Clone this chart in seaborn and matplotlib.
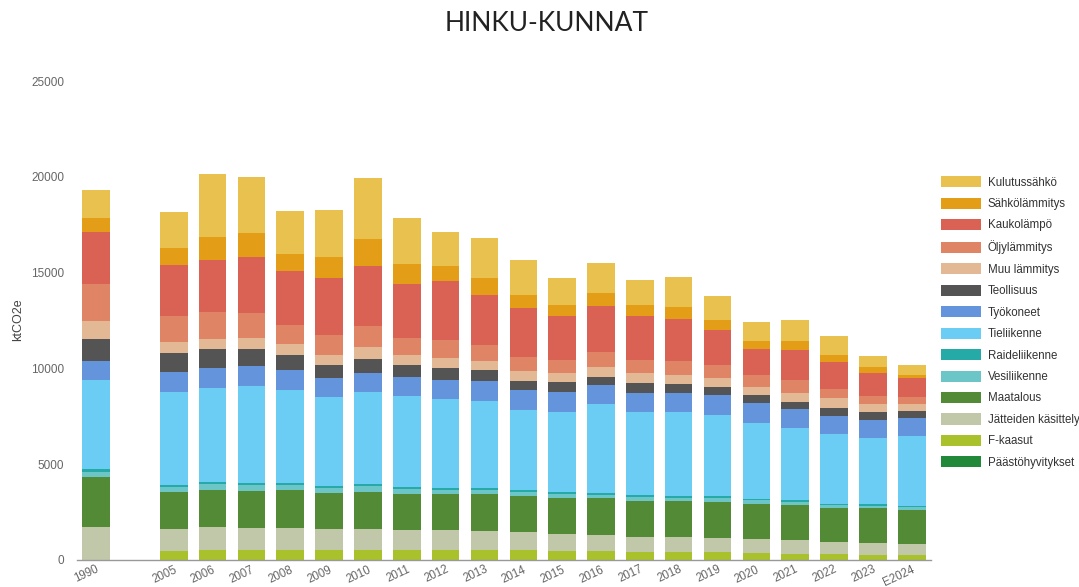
import pandas as pd
import matplotlib.pyplot as plt
import seaborn as sns

# categories (the blank slot keeps the gap between 1990 and 2005)
years = ['1990', '2005', '2006', '2007', '2008', '2009', '2010', '2011', '2012',
         '2013', '2014', '2015', '2016', '2017', '2018', '2019', '2020', '2021',
         '2022', '2023', 'E2024']
order = ['1990', ' '] + years[1:]

# emissions per sector, ktCO2e
paastohyvitykset = [0, 0, 0, 0, 0, 0, 0, 0, 0, 0, 0, 0, 0, 0, 0, 0, 0, 0, 0, 0, 0]
f_kaasut = [0, 450, 520, 520, 540, 520, 520, 520, 520, 520, 505, 470, 470, 435,
            420, 400, 365, 330, 295, 280, 245]
jatteiden_kasittely = [1740, 1150, 1180, 1130, 1115, 1080, 1100, 1030, 1030, 990,
                       940, 905, 820, 785, 765, 750, 715, 715, 660, 630, 610]
maatalous = [2580, 1970, 1950, 1950, 1990, 1920, 1950, 1920, 1880, 1920, 1900,
             1880, 1930, 1880, 1880, 1860, 1860, 1850, 1780, 1810, 1780]
vesiliikenne = [280, 260, 300, 300, 260, 260, 300, 260, 225, 225, 225, 210, 190,
                190, 175, 225, 175, 155, 140, 120, 120]
raideliikenne = [140, 105, 120, 120, 120, 105, 120, 105, 105, 105, 90, 90, 90, 90,
                 90, 90, 90, 90, 70, 70, 70]
tieliikenne = [4670, 4840, 4930, 5050, 4840, 4620, 4790, 4740, 4630, 4560, 4180,
               4180, 4620, 4340, 4390, 4220, 3920, 3730, 3620, 3480, 3640]
tyokoneet = [990, 1030, 1030, 1045, 1060, 1010, 990, 960, 1030, 1030, 1030, 1030,
             990, 1010, 1010, 1045, 1045, 990, 940, 940, 925]
teollisuus = [1115, 990, 960, 890, 750, 660, 700, 660, 610, 560, 490, 505, 450,
              520, 450, 450, 435, 400, 435, 420, 365]
muu_lammitys = [940, 560, 540, 590, 575, 540, 630, 505, 505, 490, 505, 505, 520,
                520, 490, 450, 450, 470, 490, 400, 385]
oljylammitys = [1970, 1390, 1410, 1310, 1030, 1045, 1130, 890, 960, 840, 750, 680,
                750, 680, 700, 680, 590, 645, 490, 385, 385]
kaukolampo = [2680, 2670, 2700, 2930, 2790, 2980, 3140, 2800, 3050, 2580, 2540,
              2260, 2440, 2260, 2210, 1830, 1390, 1570, 1410, 1220, 990]
sahkolammitys = [770, 890, 1200, 1240, 890, 1060, 1390, 1060, 780, 920, 700, 590,
                 680, 575, 645, 520, 400, 470, 365, 295, 155]
kulutussahko = [1460, 1880, 3290, 2930, 2280, 2460, 3170, 2400, 1780, 2090, 1790,
                1410, 1530, 1340, 1550, 1250, 990, 1100, 990, 590, 520]

# bottom to top
sectors = {
    'Päästöhyvitykset': paastohyvitykset,
    'F-kaasut': f_kaasut,
    'Jätteiden käsittely': jatteiden_kasittely,
    'Maatalous': maatalous,
    'Vesiliikenne': vesiliikenne,
    'Raideliikenne': raideliikenne,
    'Tieliikenne': tieliikenne,
    'Työkoneet': tyokoneet,
    'Teollisuus': teollisuus,
    'Muu lämmitys': muu_lammitys,
    'Öljylämmitys': oljylammitys,
    'Kaukolämpö': kaukolampo,
    'Sähkölämmitys': sahkolammitys,
    'Kulutussähkö': kulutussahko,
}
colors = {
    'Päästöhyvitykset': '#23893a',
    'F-kaasut': '#a9c22b',
    'Jätteiden käsittely': '#c1c8aa',
    'Maatalous': '#538a36',
    'Vesiliikenne': '#6cc5c6',
    'Raideliikenne': '#25aaa8',
    'Tieliikenne': '#6bcdf3',
    'Työkoneet': '#6494dc',
    'Teollisuus': '#545454',
    'Muu lämmitys': '#e3b995',
    'Öljylämmitys': '#df8464',
    'Kaukolämpö': '#da6255',
    'Sähkölämmitys': '#e39d17',
    'Kulutussähkö': '#e8c14f',
}

df = pd.DataFrame(sectors, index=years)
stacked = df.cumsum(axis=1)

sns.set_style('white')
plt.rcParams['font.family'] = ['Liberation Sans', 'DejaVu Sans']

fig = plt.figure(figsize=(10.79, 5.87), dpi=100)
ax = fig.add_axes([0.071, 0.046, 0.792, 0.816])

# draw the cumulative totals from the top layer down so each layer shows through
for name in reversed(list(sectors)):
    sns.barplot(x=years, y=stacked[name].values, order=order, color=colors[name],
                saturation=1, width=0.71, linewidth=0, errorbar=None,
                label=name, ax=ax)

if ax.get_legend() is not None:
    ax.get_legend().remove()

ax.set_ylim(0, 25000)
ax.set_xlim(-0.5, len(order) - 0.5)
ax.set_yticks([0, 5000, 10000, 15000, 20000, 25000])
ax.set_yticklabels(['0', '5000', '10000', '15000', '20000', '25000'])
ax.tick_params(axis='y', length=0, pad=9, labelsize=8.5, labelcolor='#666666')
ax.tick_params(axis='x', length=0, pad=2.5, labelsize=8.3, labelcolor='#666666')
for lbl in ax.get_xticklabels():
    lbl.set_rotation(25)
    lbl.set_ha('right')
    lbl.set_rotation_mode('anchor')
ax.set_xlabel('')
ax.set_ylabel('')
fig.text(0.017, 0.455, 'ktCO2e', rotation=90, ha='center', va='center',
         fontsize=9, color='#444444')

sns.despine(ax=ax, left=True, top=True, right=True)
ax.spines['bottom'].set_color('#999999')
ax.spines['bottom'].set_linewidth(1)

fig.text(0.507, 0.960, 'HINKU-KUNNAT', ha='center', va='center', fontsize=19,
         family=['Lato', 'DejaVu Sans'], color='#222222')

handles, labels = ax.get_legend_handles_labels()
fig.legend(handles, labels, loc='upper left', bbox_to_anchor=(0.872, 0.70),
           frameon=False, fontsize=8.3, handlelength=3.5, handleheight=1.1,
           labelspacing=0.78, handletextpad=0.55, borderpad=0, borderaxespad=0,
           labelcolor='#333333')

fig.savefig('out.png', dpi=100)
